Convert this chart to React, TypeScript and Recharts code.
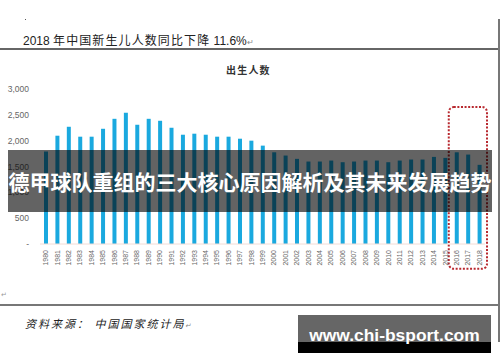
import React from "react";
import { BarChart, Bar, XAxis, YAxis, ReferenceArea } from "recharts";

const years = [
  "1980", "1981", "1982", "1983", "1984", "1985", "1986", "1987", "1988", "1989",
  "1990", "1991", "1992", "1993", "1994", "1995", "1996", "1997", "1998", "1999",
  "2000", "2001", "2002", "2003", "2004", "2005", "2006", "2007", "2008", "2009",
  "2010", "2011", "2012", "2013", "2014", "2015", "2016", "2017", "2018",
];

// 出生人数（万人）
const births = [
  1790, 2096, 2269, 2077, 2077, 2230, 2423, 2538, 2308, 2423,
  2385, 2250, 2115, 2135, 2115, 2077, 2077, 2038, 2000, 1904,
  1775, 1712, 1648, 1596, 1596, 1615, 1583, 1596, 1615, 1615,
  1583, 1615, 1635, 1635, 1686, 1667, 1775, 1731, 1532,
];

const yTicks = [0, 500, 1000, 1500, 2000, 2500, 3000];

const data = years.map((year, i) => ({ year, births: births[i] }));

const CJK = '"Noto Sans CJK SC", "Liberation Sans", sans-serif';

const YearTick = (props: any) => {
  const { x, y, payload } = props;
  return (
    <text
      x={x}
      y={y}
      transform={`rotate(-90 ${x} ${y})`}
      textAnchor="end"
      dominantBaseline="central"
      fontSize={7}
      fill="#666"
      fontFamily="Liberation Sans, sans-serif"
    >
      {payload.value}
    </text>
  );
};

const DottedBox = (props: any) => {
  const { x, y, width, height } = props;
  return (
    <rect
      x={x - 2}
      y={y}
      width={width + 4}
      height={height}
      rx={5}
      fill="none"
      stroke="#b8292f"
      strokeWidth={2}
      strokeDasharray="2 1.6"
    />
  );
};

export default function App() {
  return (
    <div
      style={{
        position: "absolute",
        left: 0,
        top: 0,
        width: 500,
        height: 362,
        background: "#fff",
        overflow: "hidden",
        fontFamily: CJK,
      }}
    >
      <div style={{ position: "absolute", left: 25, top: 19, width: 1, height: 1, background: "#555" }} />
      <div
        style={{
          position: "absolute",
          left: 23,
          top: 31,
          fontSize: 12,
          lineHeight: "17px",
          color: "#222",
          whiteSpace: "nowrap",
          fontFamily: "Liberation Sans, sans-serif",
        }}
      >
        2018{" "}
        <span style={{ fontFamily: CJK, letterSpacing: 1.1 }}>年中国新生儿人数同比下降</span>
        {" "}11.6%
        <span style={{ fontSize: 8, color: "#888" }}>↵</span>
      </div>
      <div style={{ position: "absolute", left: 0, top: 48, width: 499, height: 1.5, background: "#666" }} />
      <div style={{ position: "absolute", left: 498, top: 19, width: 1.5, height: 323, background: "#777" }} />

      <div
        style={{
          position: "absolute",
          left: 226,
          top: 63,
          fontSize: 10,
          lineHeight: "14px",
          fontWeight: 700,
          letterSpacing: 1.2,
          color: "#333",
          whiteSpace: "nowrap",
        }}
      >
        出生人数
      </div>

      <div style={{ position: "absolute", left: 0, top: 0 }}>
        <BarChart
          width={500}
          height={362}
          data={data}
          margin={{ top: 89, right: 15, bottom: 88, left: 0 }}
        >
          <XAxis
            dataKey="year"
            interval={0}
            height={30}
            tickSize={0}
            tickMargin={6}
            tickLine={false}
            axisLine={{ stroke: "#f2dcd6" }}
            tick={<YearTick />}
          />
          <YAxis
            width={40}
            domain={[0, 3000]}
            ticks={yTicks}
            tickSize={0}
            tickMargin={11}
            tickLine={false}
            axisLine={false}
            tick={{ fontSize: 8.5, fill: "#666", fontFamily: "Liberation Sans, sans-serif" }}
            tickFormatter={(v: number) => (v === 0 ? "-" : v.toLocaleString("en-US"))}
          />
          <Bar dataKey="births" fill="#1aa9df" barSize={4} isAnimationActive={false} />
          <ReferenceArea
            x1="2016"
            x2="2018"
            y1={-480}
            y2={2650}
            ifOverflow="visible"
            shape={<DottedBox />}
          />
        </BarChart>
      </div>

      <div
        style={{
          position: "absolute",
          left: 8,
          top: 150,
          width: 484,
          height: 62,
          background: "rgba(0,0,0,0.61)",
          color: "#fff",
          fontSize: 21,
          fontWeight: 700,
          lineHeight: "62px",
          textAlign: "center",
          whiteSpace: "nowrap",
        }}
      >
        德甲球队重组的三大核心原因解析及其未来发展趋势
      </div>

      <div style={{ position: "absolute", left: 1, top: 289, fontSize: 7, color: "#999" }}>↵</div>
      <div style={{ position: "absolute", left: 0, top: 304, width: 499, height: 1.5, background: "#777" }} />

      <div
        style={{
          position: "absolute",
          left: 25,
          top: 315,
          fontSize: 11,
          lineHeight: "16px",
          fontStyle: "italic",
          letterSpacing: 2,
          color: "#222",
          whiteSpace: "nowrap",
        }}
      >
        资料来源： 中国国家统计局
        <span style={{ fontSize: 7, color: "#888", letterSpacing: 0 }}>↵</span>
      </div>

      <div style={{ position: "absolute", left: 298, top: 315, width: 193, height: 38, background: "#000" }}>
        <div style={{ position: "absolute", left: 0, top: 0, width: 193, height: 27, background: "#666" }} />
        <div
          style={{
            position: "absolute",
            left: 0,
            top: 10,
            width: 193,
            textAlign: "center",
            color: "#fff",
            fontFamily: "Liberation Sans, sans-serif",
            fontWeight: 700,
            fontSize: 17.4,
            lineHeight: "20px",
            whiteSpace: "nowrap",
          }}
        >
          www.chi-bsport.com
        </div>
      </div>
    </div>
  );
}
